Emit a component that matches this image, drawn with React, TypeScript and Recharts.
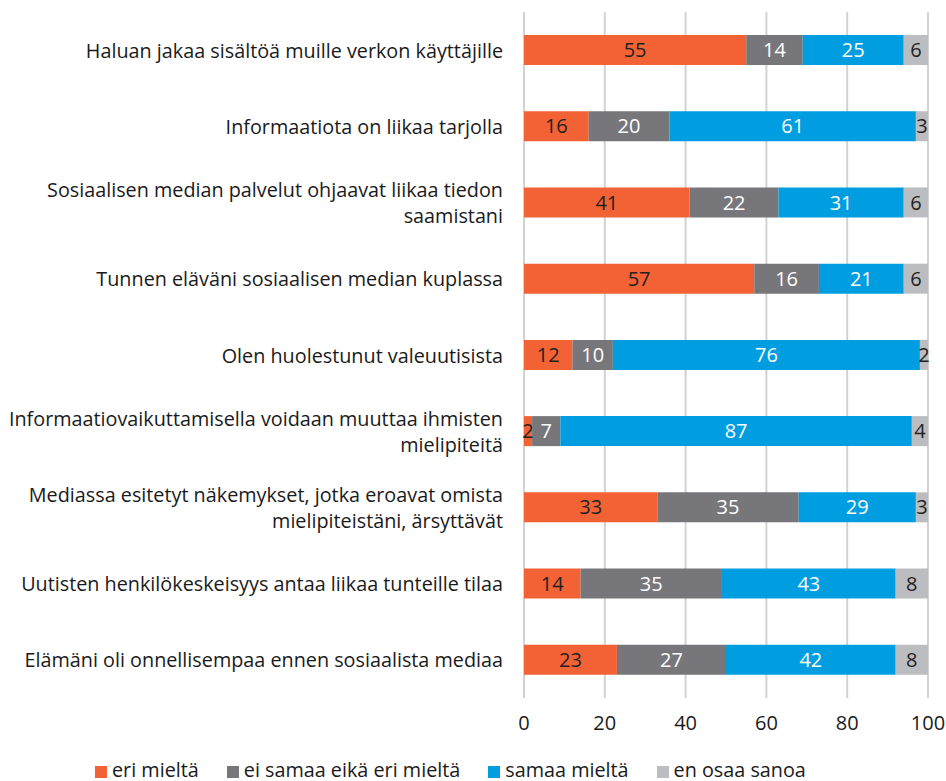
import { BarChart, Bar, XAxis, YAxis, CartesianGrid, LabelList } from "recharts";

// ─── Data ───
const categories = [
  "Haluan jakaa sisältöä muille verkon käyttäjille",
  "Informaatiota on liikaa tarjolla",
  "Sosiaalisen median palvelut ohjaavat liikaa tiedon\nsaamistani",
  "Tunnen eläväni sosiaalisen median kuplassa",
  "Olen huolestunut valeuutisista",
  "Informaatiovaikuttamisella voidaan muuttaa ihmisten\nmielipiteitä",
  "Mediassa esitetyt näkemykset, jotka eroavat omista\nmielipiteistäni, ärsyttävät",
  "Uutisten henkilökeskeisyys antaa liikaa tunteille tilaa",
  "Elämäni oli onnellisempaa ennen sosiaalista mediaa",
];
const eriMielta = [55, 16, 41, 57, 12, 2, 33, 14, 23];
const eiSamaaEikaEri = [14, 20, 22, 16, 10, 7, 35, 35, 27];
const samaaMielta = [25, 61, 31, 21, 76, 87, 29, 43, 42];
const enOsaaSanoa = [6, 3, 6, 6, 2, 4, 3, 8, 8];
const xTicks = [0, 20, 40, 60, 80, 100];

const series = [
  { key: "eri", name: "eri mieltä", color: "#f26234", text: "#222222" },
  { key: "neutral", name: "ei samaa eikä eri mieltä", color: "#77777b", text: "#ffffff" },
  { key: "samaa", name: "samaa mieltä", color: "#009ee0", text: "#ffffff" },
  { key: "eos", name: "en osaa sanoa", color: "#bcbdc0", text: "#222222" },
];

const rows = categories.map((name, i) => ({
  name,
  eri: eriMielta[i],
  neutral: eiSamaaEikaEri[i],
  samaa: samaaMielta[i],
  eos: enOsaaSanoa[i],
}));

const FONT = "'Open Sans', sans-serif";

// ─── Ticks ───
function CategoryTick({ x, y, payload }: any) {
  const lines = String(payload.value).split("\n");
  const lh = 26;
  const start = y - ((lines.length - 1) * lh) / 2;
  return (
    <text x={x} y={start} textAnchor="end" fontSize={19.8} fill="#1a1a1a" fontFamily={FONT}>
      {lines.map((l, i) => (
        <tspan key={i} x={x} y={start + i * lh} dominantBaseline="central">
          {l}
        </tspan>
      ))}
    </text>
  );
}

function ValueTick({ x, y, payload }: any) {
  return (
    <text x={x} y={y + 24} textAnchor="middle" dominantBaseline="central" fontSize={20} fill="#1a1a1a" fontFamily={FONT}>
      {payload.value}
    </text>
  );
}

export default function App() {
  return (
    <div style={{ position: "absolute", left: 0, top: 0, width: 946, height: 781, background: "#fff", overflow: "hidden" }}>
      <BarChart
        width={946}
        height={781}
        data={rows}
        layout="vertical"
        margin={{ top: 12, right: 18, left: 0, bottom: 43 }}
      >
        <CartesianGrid horizontal={false} stroke="#d2d2d2" strokeWidth={2} />
        <XAxis
          type="number"
          domain={[0, 100]}
          ticks={xTicks}
          axisLine={false}
          tickLine={false}
          tickSize={0}
          tickMargin={0}
          height={40}
          tick={<ValueTick />}
          interval={0}
        />
        <YAxis
          type="category"
          dataKey="name"
          width={524}
          axisLine={false}
          tickLine={false}
          tickSize={0}
          tickMargin={21}
          tick={<CategoryTick />}
          interval={0}
        />
        {series.map((s) => (
          <Bar key={s.key} dataKey={s.key} name={s.name} stackId="a" fill={s.color} barSize={30} isAnimationActive={false}>
            <LabelList dataKey={s.key} position="center" fill={s.text} fontSize={20} fontFamily={FONT} />
          </Bar>
        ))}
      </BarChart>
      <div
        style={{
          position: "absolute",
          left: 95,
          top: 757,
          display: "flex",
          alignItems: "center",
          fontFamily: FONT,
          fontSize: 19.8,
          lineHeight: "26px",
          color: "#1a1a1a",
          whiteSpace: "nowrap",
        }}
      >
        {series.map((s) => (
          <div key={s.key} style={{ display: "flex", alignItems: "center", marginRight: 28 }}>
            <span style={{ display: "inline-block", width: 12, height: 12, background: s.color, marginRight: 5, marginTop: 3 }} />
            <span>{s.name}</span>
          </div>
        ))}
      </div>
    </div>
  );
}
